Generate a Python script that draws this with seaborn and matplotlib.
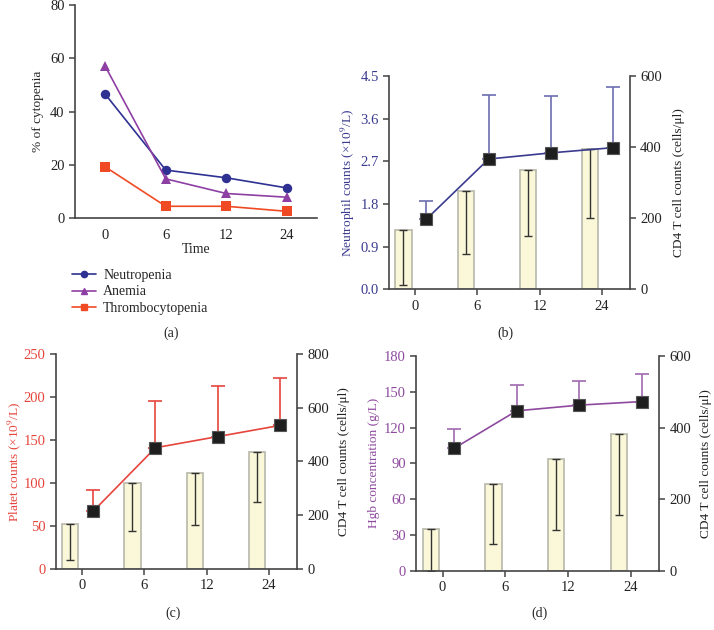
import numpy as np
import pandas as pd
import matplotlib
matplotlib.use('Agg')
import matplotlib.pyplot as plt
from matplotlib.lines import Line2D
import seaborn as sns

times = ['0', '6', '12', '24']

# panel (a): % of cytopenia
neutropenia = [46.5, 18.0, 15.1, 11.3]
anemia = [57.0, 14.7, 9.2, 7.8]
thrombocytopenia = [19.2, 4.4, 4.4, 2.5]

# panel (b): neutrophil counts + CD4
neut_mean = [1.48, 2.75, 2.88, 2.99]
neut_err = [0.38, 1.36, 1.21, 1.29]
cd4_b = [166, 277, 335, 394]
cd4_b_err = [153, 177, 185, 193]

# panel (c): platelet counts + CD4
plt_mean = [67, 141, 154, 167]
plt_err = [25, 54, 59, 55]
cd4_c = [166, 319, 356, 436]
cd4_c_err = [133, 178, 194, 186]

# panel (d): Hgb + CD4
hgb_mean = [102.5, 134, 138.8, 141.8]
hgb_err = [16, 22, 20, 22.7]
cd4_d = [117, 242, 312, 381]
cd4_d_err = [117, 168, 198, 226]

sns.set_theme(style="ticks")
plt.rcParams['font.family'] = ['Liberation Serif', 'DejaVu Serif']
plt.rcParams['mathtext.fontset'] = 'stix'
plt.rcParams['font.size'] = 10
plt.rcParams['axes.labelsize'] = 9.6
plt.rcParams['xtick.labelsize'] = 10.5
plt.rcParams['ytick.labelsize'] = 10.5
plt.rcParams['axes.linewidth'] = 1.2
plt.rcParams['axes.edgecolor'] = '#444444'
plt.rcParams['xtick.color'] = '#444444'
plt.rcParams['ytick.color'] = '#444444'
plt.rcParams['xtick.labelcolor'] = '#222222'
plt.rcParams['ytick.labelcolor'] = '#222222'

fig = plt.figure(figsize=(7.14, 6.3), dpi=100)

# ---------- panel (a)
axa = fig.add_axes([0.105, 0.654, 0.339, 0.338])
pos = np.arange(len(times))
df_a = pd.DataFrame({
    'pos': np.tile(pos, 3),
    'pct': neutropenia + anemia + thrombocytopenia,
    'type': ['Neutropenia'] * 4 + ['Anemia'] * 4 + ['Thrombocytopenia'] * 4,
})
pal = {'Neutropenia': '#2E3192', 'Anemia': '#8E3FA3', 'Thrombocytopenia': '#F04A24'}
mk = {'Neutropenia': 'o', 'Anemia': '^', 'Thrombocytopenia': 's'}
sns.lineplot(data=df_a, x='pos', y='pct', hue='type', style='type', palette=pal,
             markers=mk, dashes=False, markersize=6.8, markeredgewidth=0,
             linewidth=1.2, legend=False, ax=axa)
axa.set_xlim(-0.5, 3.5)
axa.set_ylim(0, 80)
axa.set_yticks([0, 20, 40, 60, 80])
axa.set_xticks(pos)
axa.set_xticklabels(times)
axa.tick_params(axis='x', length=0, pad=8)
axa.tick_params(axis='y', length=4, width=1.1)
axa.set_xlabel('Time', labelpad=1, fontsize=10)
axa.set_ylabel('% of cytopenia', labelpad=4, fontsize=9.6)
sns.despine(ax=axa)
handles = [Line2D([], [], color=pal[k], marker=mk[k], markersize=4.5, lw=1.2) for k in pal]
fig.legend(handles, list(pal.keys()), loc='upper left', bbox_to_anchor=(0.084, 0.593),
           frameon=False, handlelength=1.7, handletextpad=0.5, labelspacing=0.25,
           fontsize=10)
fig.text(0.24, 1 - 333 / 630, '(a)', ha='center', va='center', fontsize=10)


def dual_panel(rect, mean, err, cd4, cd4_err, lcolor, ecolor, ylim, yticks, ylabel,
               cd4_max, cd4_ticks, label, label_xy, lpad, rpad):
    ax = fig.add_axes(rect)
    ax2 = ax.twinx()
    bx = pos - 0.19
    ax2.bar(bx, cd4, width=0.26, color='#FAF8D8', edgecolor='#BDBDB0', linewidth=1.3)
    ax2.errorbar(bx, cd4, yerr=[cd4_err, np.zeros(4)], fmt='none', ecolor='#333333',
                 elinewidth=1.0, capsize=3, capthick=1.0)
    ax2.set_ylim(0, cd4_max)
    ax2.set_yticks(cd4_ticks)
    ax2.set_ylabel('CD4 T cell counts (cells/μl)', labelpad=rpad, color='#222222')
    ax.set_zorder(ax2.get_zorder() + 1)
    ax.patch.set_visible(False)

    px = pos + 0.18
    ax.errorbar(px, mean, yerr=[np.zeros(4), err], fmt='none', ecolor=ecolor,
                elinewidth=1.2, capsize=5, capthick=1.2)
    sns.lineplot(x=px, y=mean, color=lcolor, linewidth=1.2, marker='s', markersize=8.8,
                 markerfacecolor='#1E1E1E', markeredgecolor='#555555',
                 markeredgewidth=0.8, ax=ax)
    ax.set_xlim(-0.42, 3.45)
    ax.set_ylim(*ylim)
    ax.set_yticks(yticks)
    ax.set_xticks(pos)
    ax.set_xticklabels(times)
    ax.tick_params(axis='y', labelcolor=lcolor, length=4, width=1.1)
    ax.tick_params(axis='x', length=4, width=1.1)
    ax2.tick_params(axis='y', length=4, width=1.1)
    ax.set_ylabel(ylabel, color=lcolor, labelpad=lpad)
    for a in (ax, ax2):
        a.spines['top'].set_visible(False)
    ax.spines['right'].set_visible(False)
    ax2.spines['left'].set_visible(False)
    ax2.spines['bottom'].set_visible(False)
    fig.text(label_xy[0], label_xy[1], label, ha='center', va='center', fontsize=10)
    return ax


yfmt = lambda v: f'{v:.1f}'
axb = dual_panel([0.545, 0.541, 0.337, 0.338], neut_mean, neut_err, cd4_b, cd4_b_err,
                 '#3A3A8F', '#6D6DB2', (0, 4.5), [0.0, 0.9, 1.8, 2.7, 3.6, 4.5],
                 'Neutrophil counts (×10$^{9}$/L)', 600, [0, 200, 400, 600],
                 '(b)', (505 / 714, 1 - 333 / 630), 2.5, 8)
axb.set_yticklabels([yfmt(v) for v in [0.0, 0.9, 1.8, 2.7, 3.6, 4.5]])

dual_panel([0.078, 0.097, 0.338, 0.341], plt_mean, plt_err, cd4_c, cd4_c_err,
           '#E5453C', '#E5453C', (0, 250), [0, 50, 100, 150, 200, 250],
           'Platet counts (×10$^{9}$/L)', 800, [0, 200, 400, 600, 800],
           '(c)', (173 / 714, 1 - 613 / 630), 0.5, 6)

dual_panel([0.583, 0.094, 0.340, 0.341], hgb_mean, hgb_err, cd4_d, cd4_d_err,
           '#8E4A9E', '#A06AB2', (0, 180), [0, 30, 60, 90, 120, 150, 180],
           'Hgb concentration (g/L)', 600, [0, 200, 400, 600],
           '(d)', (539 / 714, 1 - 613 / 630), 3, 6)

fig.savefig('out.png', dpi=100)
